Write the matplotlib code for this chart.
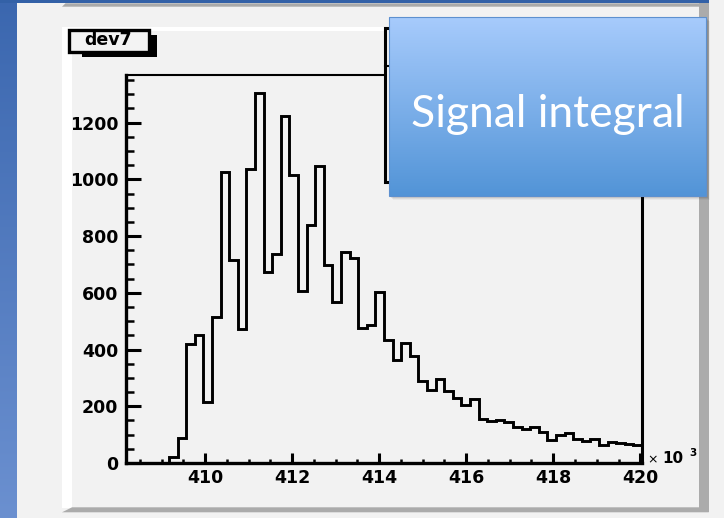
import numpy as np
import matplotlib
matplotlib.use("Agg")
import matplotlib.pyplot as plt
from matplotlib.patches import Rectangle, Polygon
from matplotlib.ticker import MultipleLocator
from matplotlib.colors import to_rgb

# ---------------- data ----------------
hist_title = "dev7"
x_min, x_max = 408.18, 420.04
n_bins = 60
counts = [0, 0, 0, 0, 0, 20, 87, 418, 450, 215,
          515, 1026, 714, 474, 1037, 1304, 675, 736, 1222, 1017,
          606, 839, 1046, 697, 566, 743, 724, 477, 488, 603,
          435, 364, 424, 379, 288, 259, 297, 253, 230, 205,
          227, 156, 148, 153, 144, 126, 121, 126, 109, 82,
          97, 105, 85, 77, 85, 65, 75, 70, 68, 64]
x_ticks = [410, 412, 414, 416, 418, 420]
y_ticks = [0, 200, 400, 600, 800, 1000, 1200]
y_max = 1368
overlay_text = "Signal integral"
exp_label = "10"
exp_power = "3"

# ---------------- figure ----------------
W, H = 724, 518
fig = plt.figure(figsize=(W / 100, H / 100), dpi=100)
fig.patch.set_facecolor("#f2f2f2")


def px_axes(z):
    a = fig.add_axes([0, 0, 1, 1], zorder=z)
    a.set_xlim(0, W)
    a.set_ylim(H, 0)
    a.axis("off")
    a.patch.set_alpha(0)
    return a


def vgrad(c1, c2, n=256):
    c1, c2 = np.array(to_rgb(c1)), np.array(to_rgb(c2))
    t = np.linspace(0, 1, n)[:, None]
    g = c1 * (1 - t) + c2 * t
    return g[:, None, :]


# background decorations
bg = px_axes(0)
bg.imshow(vgrad("#3b67af", "#6b90d0"), extent=(0, 17, H, 0), aspect="auto", zorder=1)
bg.add_patch(Rectangle((0, 0), 709, 3.3, facecolor="#3361a7", edgecolor="none", zorder=2))
bg.add_patch(Polygon([(62, 6.7), (65.5, 3.3), (709, 3.3), (709, 6.7)], closed=True,
                     facecolor="#aaaaaa", edgecolor="none", zorder=2))
# pad bevel
bg.add_patch(Rectangle((62, 26.7), 637, 4.3, facecolor="white", edgecolor="none", zorder=2))
bg.add_patch(Rectangle((62, 26.7), 10, 481, facecolor="white", edgecolor="none", zorder=2))
bg.add_patch(Rectangle((698.7, 3.3), 10, 509, facecolor="#ababab", edgecolor="none", zorder=3))
bg.add_patch(Polygon([(62, 512.3), (72, 507.3), (708.7, 507.3), (708.7, 512.3)], closed=True,
                     facecolor="#ababab", edgecolor="none", zorder=3))
bg.set_xlim(0, W)
bg.set_ylim(H, 0)

# ---------------- histogram axes ----------------
L, R, T, B = 126, 642, 75, 463
ax = fig.add_axes([L / W, 1 - B / H, (R - L) / W, (B - T) / H], zorder=2)
ax.patch.set_alpha(0)
edges = np.linspace(x_min, x_max, n_bins + 1)
ax.stairs(counts, edges, color="black", linewidth=2.1)
ax.set_xlim(x_min, x_max)
ax.set_ylim(0, y_max)
ax.set_xticks(x_ticks)
ax.set_yticks(y_ticks)
ax.xaxis.set_minor_locator(MultipleLocator(0.5))
ax.yaxis.set_minor_locator(MultipleLocator(50))
ax.tick_params(axis="y", which="major", direction="in", length=10.8, width=2.2,
               labelsize=12.5, pad=5.5)
ax.tick_params(axis="y", which="minor", direction="in", length=5.6, width=1.8)
ax.tick_params(axis="x", which="major", direction="in", length=7.2, width=2.2,
               labelsize=12.5, pad=4)
ax.tick_params(axis="x", which="minor", direction="in", length=3.2, width=1.8)
for lab in ax.get_xticklabels() + ax.get_yticklabels():
    lab.set_fontweight("bold")
    lab.set_family("DejaVu Sans")
ax.spines["left"].set_linewidth(2.4)
ax.spines["bottom"].set_linewidth(2.4)
ax.spines["right"].set_linewidth(2.2)
ax.spines["top"].set_linewidth(1.5)

# ---------------- overlay ----------------
ov = px_axes(5)
# x10^3
ov.text(647, 463, "\u00d7", fontsize=9, ha="left", va="baseline", color="black")
ov.text(662, 463.3, exp_label, fontsize=11, fontweight="bold", ha="left", va="baseline")
ov.text(689, 455.7, exp_power, fontsize=7.5, fontweight="bold", ha="left", va="baseline")

# title box
ov.add_patch(Rectangle((81.7, 35), 75, 22.3, facecolor="black", edgecolor="none", zorder=3))
ov.add_patch(Rectangle((68.6, 30.3), 80.1, 21.7, facecolor="#f3f3f3", edgecolor="black",
                       linewidth=2.4, zorder=4))
ov.text(108.5, 44.6, hist_title, fontsize=12.5, fontweight="bold", ha="center",
        va="baseline", zorder=5)

# stats box (mostly hidden)
ov.add_patch(Rectangle((384.5, 27.5), 300, 154, facecolor="#f2f2f2", edgecolor="black",
                       linewidth=2.2, zorder=3))
ov.plot([384.5, 684], [66, 66], color="black", linewidth=1.5, zorder=3)

# signal box with shadow
for i, a in enumerate([0.10, 0.08, 0.06, 0.04]):
    d = 1 + i
    ov.add_patch(Rectangle((389 + d, 17 + d), 317, 179, facecolor="black", alpha=a,
                           edgecolor="none", zorder=6))
ov.add_patch(Rectangle((389, 17), 317, 179, facecolor="#f2f2f2", edgecolor="none", zorder=6.5))
ov.imshow(vgrad("#a7cbfc", "#5294d7"), extent=(389, 706, 196, 17), aspect="auto", zorder=7)
ov.add_patch(Rectangle((389, 17), 317, 179, facecolor="none", edgecolor="#5d90cf",
                       linewidth=0.8, zorder=8))
t = ov.text(547.5, 127, overlay_text, fontsize=30, color="white", family="Lato",
            ha="center", va="baseline", zorder=9)
fig.canvas.draw()
bb = t.get_window_extent()
t.set_fontsize(30 * 273 / bb.width)
ov.set_xlim(0, W)
ov.set_ylim(H, 0)

fig.savefig("out.png", dpi=100, facecolor=fig.get_facecolor())
